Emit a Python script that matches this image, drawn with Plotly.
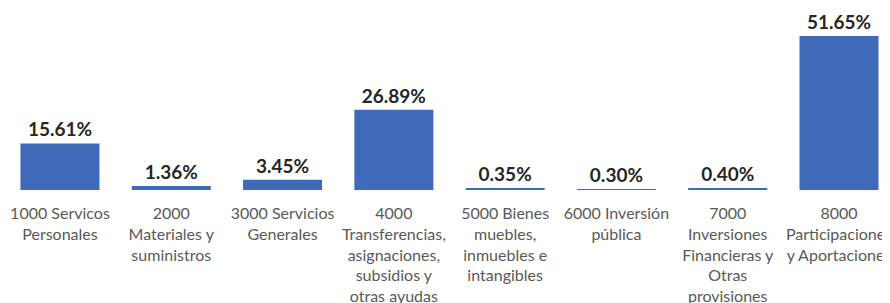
import plotly.graph_objects as go

categories = [
    "1000 Servicos<br>Personales",
    "2000<br>Materiales y<br>suministros",
    "3000 Servicios<br>Generales",
    "4000<br>Transferencias,<br>asignaciones,<br>subsidios y<br>otras ayudas",
    "5000 Bienes<br>muebles,<br>inmuebles e<br>intangibles",
    "6000 Inversión<br>pública",
    "7000<br>Inversiones<br>Financieras y<br>Otras<br>provisiones",
    "8000<br>Participaciones<br>y Aportaciones",
]
values = [15.61, 1.36, 3.45, 26.89, 0.35, 0.30, 0.40, 51.65]
value_labels = ["15.61%", "1.36%", "3.45%", "26.89%", "0.35%", "0.30%", "0.40%", "51.65%"]

x = list(range(len(categories)))

fig = go.Figure(
    go.Bar(
        x=x,
        y=values,
        text=value_labels,
        textposition="outside",
        cliponaxis=False,
        textfont=dict(family="Lato", size=19, color="#262626", weight="bold"),
        marker=dict(color="#3F69B9", line=dict(width=0)),
        hoverinfo="skip",
    )
)

fig.update_layout(
    width=890,
    height=303,
    margin=dict(l=0, r=0, t=0, b=121, autoexpand=False),
    paper_bgcolor="white",
    plot_bgcolor="white",
    bargap=0.29,
    showlegend=False,
    xaxis=dict(
        range=[-0.467, 7.530],
        automargin=False,
        tickmode="array",
        tickvals=x,
        ticktext=categories,
        tickfont=dict(family="Lato", size=16, color="#595959"),
        ticklabeloverflow="allow",
        showgrid=False,
        zeroline=False,
        showline=False,
        ticks="",
        ticklabelstandoff=12,
    ),
    yaxis=dict(
        range=[0, 61.03],
        visible=False,
        automargin=False,
        showgrid=False,
        zeroline=False,
    ),
)

fig.write_html("out.html")
